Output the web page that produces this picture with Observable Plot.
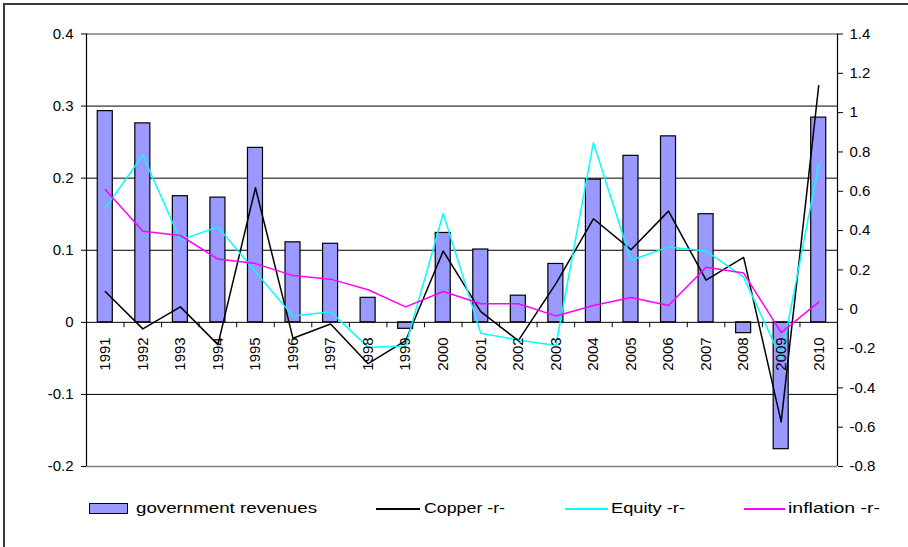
<!DOCTYPE html>
<html>
<head>
<meta charset="utf-8">
<script src="https://cdn.jsdelivr.net/npm/d3@7"></script>
<script src="https://cdn.jsdelivr.net/npm/@observablehq/plot@0.6"></script>
<style>
  html, body { margin: 0; padding: 0; background: #fff; }
  #wrap { position: relative; width: 908px; height: 547px; overflow: hidden; font-family: "Liberation Sans", Arial, sans-serif; }
  #frame { position: absolute; left: 3px; top: 3px; width: 1000px; height: 1000px; border-top: 2px solid #3a3a3a; border-left: 2px solid #3a3a3a; box-sizing: border-box; }
  #chart { position: absolute; left: 0; top: 0; }
  #legend { position: absolute; left: 0; top: 490px; width: 908px; height: 57px; font-size: 15px; color: #000; }
  .sw-bar { position: absolute; top: 13px; height: 9px; background: #9999ff; border: 1px solid #000; }
  .sw-line { position: absolute; top: 18px; height: 2px; }
  .lbl { position: absolute; top: 9px; line-height: 18px; white-space: nowrap; transform-origin: 0 50%; }
</style>
</head>
<body>
<div id="wrap">
  <div id="frame"></div>
  <div id="chart"></div>
  <div id="legend"></div>
</div>
<script>
const years = [1991,1992,1993,1994,1995,1996,1997,1998,1999,2000,2001,2002,2003,2004,2005,2006,2007,2008,2009,2010];
const govRevenues = [0.293,0.276,0.175,0.173,0.242,0.111,0.109,0.034,-0.009,0.124,0.101,0.037,0.081,0.198,0.231,0.258,0.150,-0.015,-0.176,0.284];
const copper = [0.09,-0.10,0.012,-0.18,0.618,-0.148,-0.075,-0.277,-0.16,0.296,-0.012,-0.16,0.13,0.46,0.303,0.499,0.148,0.264,-0.573,1.137];
const equity = [0.514,0.783,0.352,0.419,0.19,-0.034,-0.013,-0.194,-0.187,0.487,-0.122,-0.156,-0.185,0.847,0.249,0.317,0.296,0.163,-0.25,0.737];
const inflation = [0.609,0.397,0.375,0.255,0.232,0.171,0.153,0.099,0.012,0.09,0.028,0.028,-0.034,0.019,0.06,0.019,0.214,0.184,-0.119,0.036];
const leftTicks = [0.4,0.3,0.2,0.1,0,-0.1,-0.2];
const rightTicks = [1.4,1.2,1,0.8,0.6,0.4,0.2,0,-0.2,-0.4,-0.6,-0.8];
const gridLines = [0.3,0.2,0.1,-0.1];
const borderLines = [0.4,-0.2];
const seriesNames = ["government revenues","Copper -r-","Equity -r-","inflation -r-"];
const seriesColors = ["#9999ff","#000000","#00ffff","#ff00ff"];

const leftDomain = [-0.2, 0.4];
const rightDomain = [-0.8, 1.4];
const toLeft = r => leftDomain[0] + (r - rightDomain[0]) * (leftDomain[1]-leftDomain[0])/(rightDomain[1]-rightDomain[0]);
const fromLeft = v => rightDomain[0] + (v - leftDomain[0]) * (rightDomain[1]-rightDomain[0])/(leftDomain[1]-leftDomain[0]);
const fmt = v => { const r = Math.round(v*10)/10; return (Object.is(r,-0) ? 0 : r).toString(); };

const data = years.map((y,i) => ({year: y, gov: govRevenues[i], copper: copper[i], equity: equity[i], inflation: inflation[i]}));

const W = 908, H = 490, mL = 86, mR = 71;
const step = (W - mL - mR) / years.length;

const chart = Plot.plot({
  width: W, height: H,
  marginLeft: mL, marginRight: mR, marginTop: 33.5, marginBottom: 24,
  style: {fontFamily: '"Liberation Sans", Arial, sans-serif', fontSize: "15px", background: "transparent", color: "#000", overflow: "visible"},
  x: {type: "band", domain: years, paddingInner: 0.6, paddingOuter: 0.3, round: false, axis: null},
  y: {domain: leftDomain, label: null},
  marks: [
    Plot.ruleY(gridLines, {stroke: "#000", strokeWidth: 1}),
    Plot.ruleY(borderLines, {stroke: "#808080", strokeWidth: 1.5}),
    Plot.barY(data, {x: "year", y: "gov", fill: seriesColors[0], stroke: "#000", strokeWidth: 1.2}),
    Plot.ruleY([0], {stroke: "#000", strokeWidth: 1}),
    Plot.ruleX(years.slice(1), {x: d => d, y1: 0, y2: -0.0075, dx: -step/2, stroke: "#000"}),
    Plot.lineY(data, {x: "year", y: d => toLeft(d.copper), stroke: seriesColors[1], strokeWidth: 1.5}),
    Plot.lineY(data, {x: "year", y: d => toLeft(d.equity), stroke: seriesColors[2], strokeWidth: 1.5}),
    Plot.lineY(data, {x: "year", y: d => toLeft(d.inflation), stroke: seriesColors[3], strokeWidth: 1.5}),
    Plot.text(data, {x: "year", y: 0, text: d => String(d.year), rotate: -90, textAnchor: "end", dy: 15, fill: "#000"}),
    Plot.ruleX([years[0]], {dx: -step/2, stroke: "#000", strokeWidth: 1.2}),
    Plot.ruleX([years[years.length-1]], {dx: step/2, stroke: "#000", strokeWidth: 1.2}),
    Plot.axisY(leftTicks, {anchor: "left", tickSize: 5, tickPadding: 8, tickFormat: fmt, label: null, stroke: "#000"}),
    Plot.axisY(rightTicks.map(toLeft), {anchor: "right", tickSize: 5, tickPadding: 7, tickFormat: v => fmt(fromLeft(v)), label: null, stroke: "#000"})
  ]
});
document.getElementById("chart").appendChild(chart);

// Legend (layout only)
const legend = document.getElementById("legend");
const swatchX = [[89,128],[376,420],[565,608],[744,785]];
const labelX = [[136,317],[424,505],[611,685],[788,880]];
seriesNames.forEach((name, i) => {
  const sw = document.createElement("div");
  sw.className = i === 0 ? "sw-bar" : "sw-line";
  sw.style.left = swatchX[i][0] + "px";
  if (i === 0) {
    sw.style.width = (swatchX[i][1] - swatchX[i][0] - 2) + "px";
  } else {
    sw.style.width = (swatchX[i][1] - swatchX[i][0]) + "px";
    sw.style.background = seriesColors[i];
  }
  legend.appendChild(sw);
  const lbl = document.createElement("span");
  lbl.className = "lbl";
  lbl.style.left = labelX[i][0] + "px";
  lbl.textContent = name;
  legend.appendChild(lbl);
  const w = lbl.getBoundingClientRect().width;
  if (w > 0) lbl.style.transform = `scaleX(${(labelX[i][1] - labelX[i][0]) / w})`;
});
</script>
</body>
</html>
